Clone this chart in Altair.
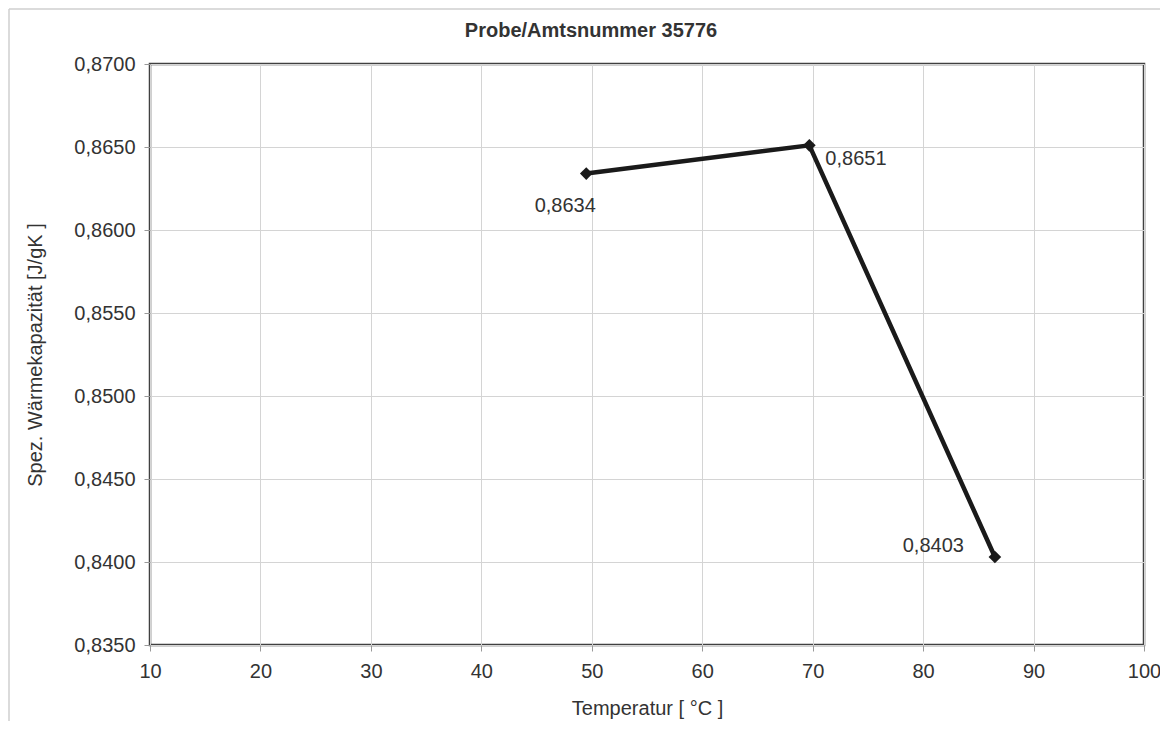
import altair as alt
import pandas as pd

# Data
temperatures = [49.5, 69.7, 86.5]
capacities = [0.8634, 0.8651, 0.8403]
point_ids = [0, 1, 2]

title_text = "Probe/Amtsnummer 35776"
x_title = "Temperatur [ °C ]"
y_title = "Spez. Wärmekapazität [J/gK ]"
x_ticks = [10, 20, 30, 40, 50, 60, 70, 80, 90, 100]
y_ticks = [0.835, 0.840, 0.845, 0.850, 0.855, 0.860, 0.865, 0.870]

df = pd.DataFrame({"id": point_ids, "T": temperatures, "c": capacities})

FONT = "Liberation Sans"
TXT = "#333333"
FS = 20

x_enc = alt.X("T:Q", scale=alt.Scale(domain=[10, 100], nice=False, zero=False),
              axis=alt.Axis(values=x_ticks, title=x_title, format="d", labelFlush=False))
y_enc = alt.Y("c:Q", scale=alt.Scale(domain=[0.835, 0.870], nice=False, zero=False),
              axis=alt.Axis(values=y_ticks, title=y_title, labelFlush=False,
                            labelExpr="replace(format(datum.value, '.4f'), '.', ',')"))

base = alt.Chart(df).encode(x=x_enc, y=y_enc)

one = alt.Data(values=[{}])
frame_top = alt.Chart(one).mark_rule(stroke="#cfcfcf", strokeWidth=1.5).encode(
    x=alt.value(-141), x2=alt.value(1300), y=alt.value(-55))
frame_left = alt.Chart(one).mark_rule(stroke="#cfcfcf", strokeWidth=1.5).encode(
    x=alt.value(-141), y=alt.value(-55), y2=alt.value(900))

line = base.mark_line(color="#1a1a1a", strokeWidth=4.5)
pts = base.mark_point(shape="diamond", filled=True, color="#1a1a1a", size=160, opacity=1)

lab_base = base.transform_calculate(
    lab="replace(format(datum.c, '.4f'), '.', ',')"
)
lab0 = lab_base.transform_filter("datum.id == 0").mark_text(
    align="center", baseline="middle", dx=-21, dy=32, fontSize=FS, font=FONT, color=TXT
).encode(text="lab:N")
lab1 = lab_base.transform_filter("datum.id == 1").mark_text(
    align="left", baseline="middle", dx=16, dy=14, fontSize=FS, font=FONT, color=TXT
).encode(text="lab:N")
lab2 = lab_base.transform_filter("datum.id == 2").mark_text(
    align="right", baseline="middle", dx=-31, dy=-11, fontSize=FS, font=FONT, color=TXT
).encode(text="lab:N")

chart = alt.layer(frame_top, frame_left, line, pts, lab0, lab1, lab2).properties(
    width=994, height=581,
    title=alt.TitleParams(title_text, anchor="middle", frame="group", dx=-56,
                          offset=-49, baseline="alphabetic", fontSize=FS,
                          fontWeight="bold", font=FONT, color=TXT),
    autosize=alt.AutoSizeParams(type="none"),
    padding={"left": 142, "top": 56, "right": 16, "bottom": 76},
).configure_view(
    stroke="#404040", strokeWidth=2.5
).configure_axis(
    domain=False, grid=True, gridColor="#d4d4d4", gridWidth=1,
    tickColor="#999999", tickSize=6,
    labelFont=FONT, labelFontSize=FS, labelColor=TXT,
    titleFont=FONT, titleFontSize=FS, titleColor=TXT, titleFontWeight="normal",
).configure_axisY(
    labelPadding=9, titlePadding=28
).configure_axisX(
    labelPadding=10, titlePadding=17
)

chart.save("out.html", embed_options={"renderer": "svg", "actions": False})
